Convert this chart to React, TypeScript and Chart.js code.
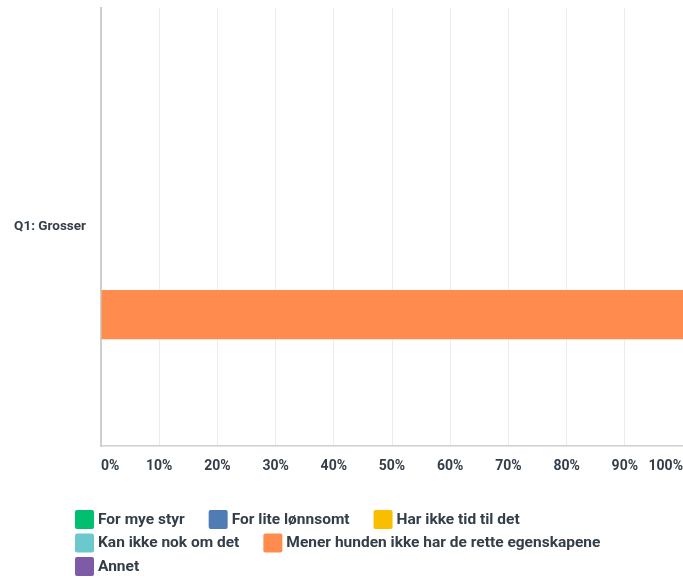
import React, { useEffect, useRef } from "react";
import { Chart, registerables } from "chart.js";

Chart.register(...registerables);

const categories = ["Q1: Grosser"];
const seriesNames = [
  "For mye styr",
  "For lite lønnsomt",
  "Har ikke tid til det",
  "Kan ikke nok om det",
  "Mener hunden ikke har de rette egenskapene",
  "Annet",
];
const seriesValues = [[0], [0], [0], [0], [100], [0]];
const seriesColors = ["#00bf6f", "#507cb6", "#f9be00", "#6bc8cd", "#ff8b4f", "#7d5ba6"];
const xTicks = [0, 10, 20, 30, 40, 50, 60, 70, 80, 90, 100];

const TEXT = "#333e48";
const FONT = "Roboto";

const legendPlugin = {
  id: "customLegend",
  afterDraw(chart: any, _args: any, opts: any) {
    const ctx = chart.ctx as CanvasRenderingContext2D;
    ctx.save();
    ctx.font = `${opts.fontWeight} ${opts.fontSize}px ${FONT}`;
    let x = opts.left;
    let y = chart.chartArea.bottom + opts.offsetTop;
    chart.data.datasets.forEach((ds: any) => {
      const tw = ctx.measureText(ds.label).width;
      const w = opts.box + opts.textGap + tw;
      if (x > opts.left && x + w > opts.maxRight) {
        x = opts.left;
        y += opts.rowHeight;
      }
      ctx.fillStyle = ds.backgroundColor;
      ctx.beginPath();
      (ctx as any).roundRect(x, y - opts.box / 2, opts.box, opts.box, 2);
      ctx.fill();
      ctx.fillStyle = TEXT;
      ctx.textBaseline = "middle";
      ctx.textAlign = "left";
      ctx.fillText(ds.label, x + opts.box + opts.textGap, y + 0.5);
      x += w + opts.itemGap;
    });
    ctx.restore();
  },
};

export default function App() {
  const ref = useRef<HTMLCanvasElement | null>(null);
  useEffect(() => {
    if (!ref.current) return;
    const chart = new Chart(ref.current, {
      type: "bar",
      data: {
        labels: categories,
        datasets: seriesNames.map((name, i) => ({
          label: name,
          data: seriesValues[i],
          backgroundColor: seriesColors[i],
          borderWidth: 0,
          categoryPercentage: 0.8,
          barPercentage: 0.84,
        })),
      },
      options: {
        indexAxis: "y",
        animation: false,
        responsive: true,
        maintainAspectRatio: false,
        layout: { padding: { top: 8, right: 0, left: 0, bottom: 103 } },
        plugins: {
          legend: { display: false },
          tooltip: { enabled: false },
          customLegend: {
            left: 75,
            offsetTop: 73.5,
            rowHeight: 23.5,
            box: 19,
            textGap: 4,
            itemGap: 24,
            fontSize: 15.5,
            fontWeight: "bold",
            maxRight: 660,
          },
        } as any,
        scales: {
          x: {
            min: 0,
            max: 100,
            afterBuildTicks: (scale: any) => {
              scale.ticks = xTicks.map((v) => ({ value: v }));
            },
            afterFit: (scale: any) => {
              scale.height = 30;
              scale.paddingLeft = 0;
              scale.paddingRight = 0;
            },
            grid: { color: "#ececec", lineWidth: 1, drawTicks: false },
            border: { display: true, color: "#d0d0d0", width: 1.5 },
            ticks: {
              align: "inner",
              padding: 12,
              color: TEXT,
              font: { family: FONT, size: 14, weight: "bold" },
              callback: (v: any) => `${v}%`,
              maxRotation: 0,
              autoSkip: false,
            },
          },
          y: {
            afterFit: (scale: any) => {
              scale.width = 101;
              scale.paddingTop = 0;
              scale.paddingBottom = 0;
            },
            grid: { display: false, drawTicks: false },
            border: { display: true, color: "#cfcfcf", width: 2 },
            ticks: {
              padding: 15,
              color: TEXT,
              font: { family: FONT, size: 13.5, weight: "bold" },
            },
          },
        },
      },
      plugins: [legendPlugin],
    });
    return () => chart.destroy();
  }, []);
  return (
    <div style={{ position: "absolute", left: 0, top: 0, width: 683, height: 579 }}>
      <canvas ref={ref} />
    </div>
  );
}
